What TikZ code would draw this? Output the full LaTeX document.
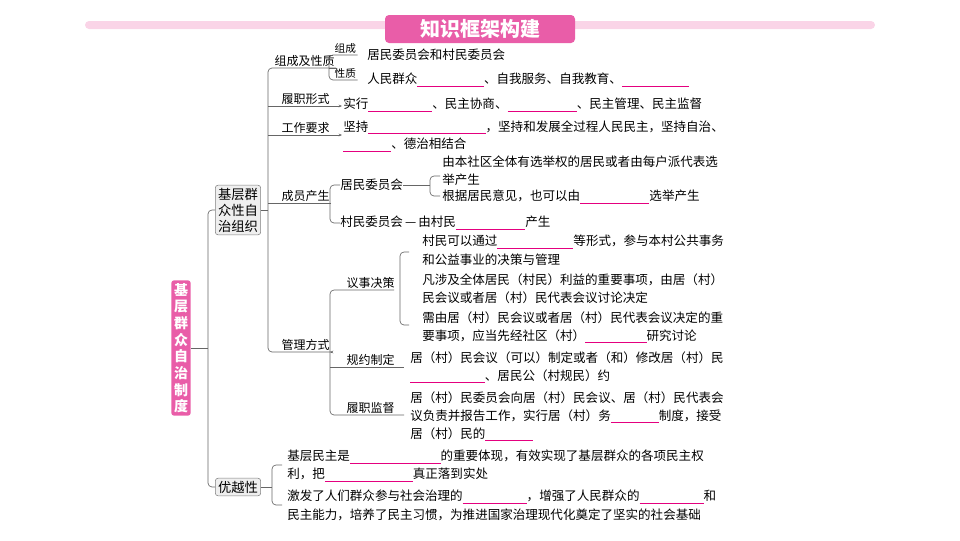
\documentclass[tikz,border=0pt]{standalone}
\usepackage{fontspec}
\setmainfont{Noto Sans CJK SC}
\usetikzlibrary{arrows.meta}
\definecolor{pk}{HTML}{E95DA8}
\definecolor{lpk}{HTML}{FAD4E7}
\definecolor{ln}{HTML}{E4007F}
\definecolor{gb}{HTML}{EFEFEF}
\newcommand{\bl}[1]{\textcolor{ln}{\rule[-2pt]{#1pt}{0.6pt}}}
\tikzset{
 tx/.style={anchor=west,inner sep=0pt,font=\fontsize{9.4}{11}\selectfont},
 lb/.style={anchor=south west,inner sep=1pt,font=\fontsize{9}{11}\selectfont},
 gbox/.style={draw=gray,fill=gb,rounded corners=2pt,inner sep=2pt,align=center,font=\fontsize{10}{12}\selectfont},
 br/.style={draw=gray!80!black,line width=0.5pt,rounded corners=3pt},
 ar/.style={br,-{Stealth[length=2.5pt,width=2pt]}}
}
\begin{document}
\begin{tikzpicture}[x=0.75pt,y=-0.75pt]
\useasboundingbox (0,0) rectangle (960,540);
\fill[lpk,rounded corners=3pt] (85,21) rectangle (875,29);
\node[fill=pk,rounded corners=3pt,minimum width=142.5pt,minimum height=21pt,text=white,font=\fontsize{15}{16}\selectfont\bfseries] (title) at (480,29) {知识框架构建};
\node[fill=pk,rounded corners=2pt,text=white,inner sep=2pt,align=center,minimum height=93pt,font=\fontsize{10.5}{12.5}\selectfont\bfseries] (main) at (181,348) {基\\层\\群\\众\\自\\治\\制\\度};
\node[gbox] (org) at (238,210) {基层群\\众性自\\治组织};
\node[gbox] (adv) at (238,487) {优越性};
\draw[br] (main.east) -- (208,348);
\draw[br] (org.west) -| (208,348) |- (adv.west);
% level 2 labels
\node[lb] (z) at (273,68) {组成及性质};
\node[lb] (l) at (280,106) {履职形式};
\node[lb] (g) at (280,135) {工作要求};
\node[lb] (c) at (280,203) {成员产生};
\node[lb] (m) at (280,352) {管理方式};
\draw[br] (org.east) -- (268,210);
\draw[br] (z.south east) -- (268,68) -- (268,352) -- (m.south east);
\draw[br] (268,106) -- (l.south east); \draw[br] (268,135) -- (g.south east); \draw[br] (268,203) -- (c.south east);
% 组成及性质
\node[lb,font=\fontsize{8}{9}\selectfont] (zc) at (333,55) {组成};
\node[lb,font=\fontsize{8}{9}\selectfont] (xz) at (333,80) {性质};
\draw[br] (z.south east) -- (329,68);
\draw[br] (zc.south east) -- (329,55) -- (329,80) -- (xz.south east);
\node[tx] (t1) at (367,55) {居民委员会和村民委员会};
\node[tx] (t2) at (367,80) {人民群众\bl{50}、自我服务、自我教育、\bl{50}};
\draw[ar] (l.south east) -- (342,106);
\node[tx] (t3) at (343,105) {实行\bl{48}、民主协商、\bl{52}、民主管理、民主监督};
\draw[ar] (g.south east) -- (342,135);
\node[tx] (t4) at (343,127) {坚持\bl{88}，坚持和发展全过程人民民主，坚持自治、};
\node[tx] (t5) at (343,145) {\bl{36}、德治相结合};
% 成员产生
\draw[br] (c.south east) -- (330,203);
\node[tx] (jw) at (340,185) {居民委员会};
\node[tx] (cw) at (340,223) {村民委员会\,—\,由村民\bl{52}产生};
\draw[br] (jw.west) -- (330,185) -- (330,223) -- (cw.west);
\draw[br] (jw.east) -- (430,185);
\draw[br] (440,176) -- (430,176) -- (430,196) -- (440,196);
\node[tx] (e1) at (442,162) {由本社区全体有选举权的居民或者由每户派代表选};
\node[tx] (e2) at (442,180) {举产生};
\node[tx] (e3) at (442,197) {根据居民意见，也可以由\bl{52}选举产生};
% 管理方式
\draw[ar] (m.south east) -- (330,352);
\node[lb] (ys) at (345,290) {议事决策};
\node[lb] (gy) at (345,367) {规约制定};
\node[lb] (lj) at (345,415) {履职监督};
\draw[br] (394,290) -- (330,290) -- (330,415) -- (404,415);
\draw[br] (330,367) -- (404,367);
\draw[br] (409,252) -- (400,252) -- (400,325) -- (409,325);
\node[tx] (y1) at (422,242) {村民可以通过\bl{57}等形式，参与本村公共事务};
\node[tx] (y2) at (422,260) {和公益事业的决策与管理};
\node[tx] (y3) at (422,280) {凡涉及全体居民（村民）利益的重要事项，由居（村）};
\node[tx] (y4) at (422,298) {民会议或者居（村）民代表会议讨论决定};
\node[tx] (y5) at (422,318) {需由居（村）民会议或者居（村）民代表会议决定的重};
\node[tx] (y6) at (422,336) {要事项，应当先经社区（村）\bl{46}研究讨论};
\node[tx] (g1) at (410,358) {居（村）民会议（可以）制定或者（和）修改居（村）民};
\node[tx] (g2) at (410,376) {\bl{56}、居民公（村规民）约};
\node[tx] (j1) at (410,398) {居（村）民委员会向居（村）民会议、居（村）民代表会};
\node[tx] (j2) at (410,416) {议负责并报告工作，实行居（村）务\bl{36}制度，接受};
\node[tx] (j3) at (410,434) {居（村）民的\bl{36}};
% 优越性
\draw[br] (adv.east) -- (272,487);
\draw[br] (282,465) -- (272,465) -- (272,505) -- (282,505);
\node[tx] (a1) at (287,457) {基层民主是\bl{68}的重要体现，有效实现了基层群众的各项民主权};
\node[tx] (a2) at (287,475) {利，把\bl{66}真正落到实处};
\node[tx] (a3) at (287,497) {激发了人们群众参与社会治理的\bl{48}，增强了人民群众的\bl{48}和};
\node[tx] (a4) at (287,515) {民主能力，培养了民主习惯，为推进国家治理现代化奠定了坚实的社会基础};
\end{tikzpicture}
\end{document}
